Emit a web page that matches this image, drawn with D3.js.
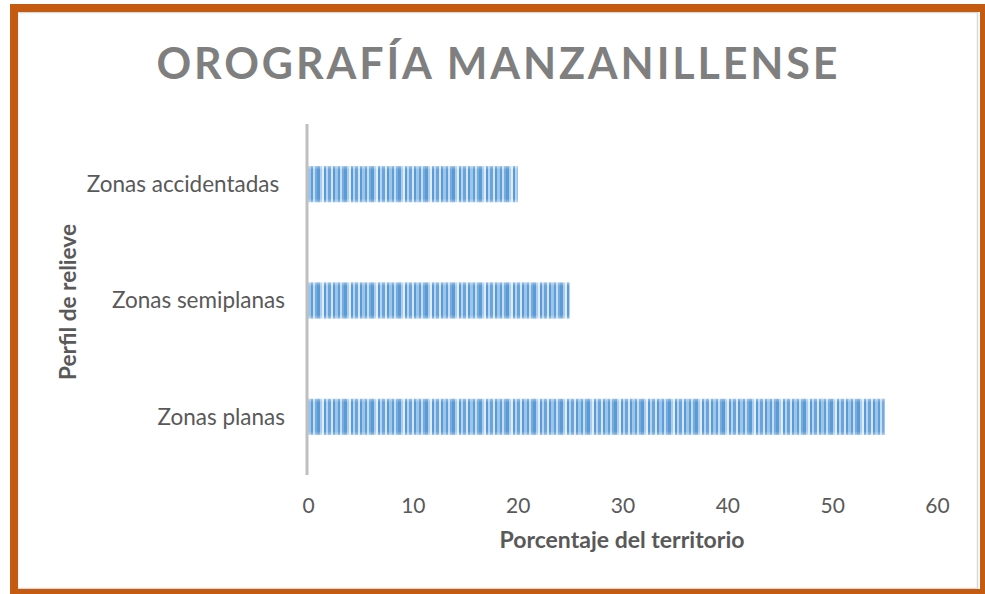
<!DOCTYPE html>
<html>
<head>
<meta charset="utf-8">
<script src="https://cdn.jsdelivr.net/npm/d3@7"></script>
<style>
  html, body { margin: 0; padding: 0; background: #ffffff; }
  svg { display: block; }
  text { white-space: pre; }
</style>
</head>
<body>
<svg id="chart" width="985" height="594"></svg>
<script>
// ---- data ----
const categories = ["Zonas accidentadas ", "Zonas semiplanas", "Zonas planas"];
const values = [20, 25, 55];
const xTicks = [0, 10, 20, 30, 40, 50, 60];
const titleText = "OROGRAFÍA MANZANILLENSE";
const xTitle = "Porcentaje del territorio";
const yTitle = "Perfil de relieve";

// ---- layout ----
const W = 985, H = 594;
const plot = { left: 308, right: 937, top: 126, bottom: 475 };
const FONT = "Lato, 'Open Sans', sans-serif";
const svg = d3.select("#chart");

// frame
svg.append("rect").attr("x", 0).attr("y", 0).attr("width", W).attr("height", H).attr("fill", "#ffffff");
svg.append("rect").attr("x", 17.5).attr("y", 12.5).attr("width", 960).attr("height", 576)
  .attr("fill", "#ffffff").attr("stroke", "#d9d9d9").attr("stroke-width", 1.5);
svg.append("rect").attr("x", 14).attr("y", 8).attr("width", 970).attr("height", 585)
  .attr("fill", "none").attr("stroke", "#c55a11").attr("stroke-width", 8);

// pattern for bars
const defs = svg.append("defs");
const stripeW = [2, 2, 3, 2, 2, 3, 2, 2, 2, 3, 2, 2];
const stripeCols = ["#5b9bd5", "#b4d3f1", "#6aa4da", "#d3e5f6", "#5b9bd5", "#9cc5ea", "#5f9ed7", "#c5ddf3", "#76acdd", "#5b9bd5", "#aacdee", "#e0edf9"];
const patW = d3.sum(stripeW);
const pat = defs.append("pattern").attr("id", "stripes").attr("patternUnits", "userSpaceOnUse")
  .attr("width", patW).attr("height", 10);
let px = 0;
stripeCols.forEach((c, i) => {
  pat.append("rect").attr("x", px).attr("y", 0).attr("width", stripeW[i]).attr("height", 10).attr("fill", c);
  px += stripeW[i];
});
const grad = defs.append("linearGradient").attr("id", "edge").attr("x1", 0).attr("x2", 0).attr("y1", 0).attr("y2", 1);
grad.append("stop").attr("offset", "0%").attr("stop-color", "#ffffff").attr("stop-opacity", 0.35);
grad.append("stop").attr("offset", "10%").attr("stop-color", "#ffffff").attr("stop-opacity", 0);
grad.append("stop").attr("offset", "90%").attr("stop-color", "#ffffff").attr("stop-opacity", 0);
grad.append("stop").attr("offset", "100%").attr("stop-color", "#ffffff").attr("stop-opacity", 0.35);

// scales
const x = d3.scaleLinear().domain([0, 60]).range([plot.left, plot.right]);
const y = d3.scaleBand().domain(categories).range([plot.top, plot.bottom]).paddingInner(0.69).paddingOuter(0.345);

// bars
const bars = svg.append("g");
bars.selectAll("rect.bar").data(categories).join("rect").attr("class", "bar")
  .attr("x", x(0)).attr("y", d => y(d))
  .attr("width", (d, i) => x(values[i]) - x(0)).attr("height", y.bandwidth())
  .attr("fill", "url(#stripes)");
bars.selectAll("rect.edge").data(categories).join("rect").attr("class", "edge")
  .attr("x", x(0)).attr("y", d => y(d))
  .attr("width", (d, i) => x(values[i]) - x(0)).attr("height", y.bandwidth())
  .attr("fill", "url(#edge)");

// y axis line
svg.append("line").attr("x1", x(0) - 1).attr("x2", x(0) - 1).attr("y1", plot.top - 2).attr("y2", plot.bottom)
  .attr("stroke", "#bfbfbf").attr("stroke-width", 3);

// x axis labels
const xAxis = d3.axisBottom(x).tickValues(xTicks).tickSize(0).tickPadding(0);
const gx = svg.append("g").attr("transform", `translate(0, ${plot.bottom})`).call(xAxis);
gx.select(".domain").remove();
gx.selectAll("text").attr("dy", 0).attr("y", 38)
  .attr("font-family", FONT).attr("font-size", 21).attr("fill", "#595959");

// y axis labels
const yAxis = d3.axisLeft(y).tickSize(0).tickPadding(0);
const gy = svg.append("g").attr("transform", `translate(${plot.left - 23}, 0)`).call(yAxis);
gy.select(".domain").remove();
gy.selectAll("text").attr("dy", "0.35em")
  .attr("font-family", FONT).attr("font-size", 22.5).attr("fill", "#595959");

// titles
svg.append("text").attr("x", 497).attr("y", 79).attr("text-anchor", "middle")
  .attr("font-family", FONT).attr("font-weight", 700)
  .attr("font-size", 43).attr("fill", "#7f7f7f")
  .attr("textLength", 681).attr("lengthAdjust", "spacing")
  .text(titleText);

svg.append("text").attr("x", 622).attr("y", 548).attr("text-anchor", "middle")
  .attr("font-family", FONT).attr("font-weight", 700)
  .attr("font-size", 22).attr("fill", "#595959")
  .attr("textLength", 245).attr("lengthAdjust", "spacingAndGlyphs").text(xTitle);

svg.append("text").attr("transform", "translate(76, 302) rotate(-90)").attr("text-anchor", "middle")
  .attr("font-family", FONT).attr("font-weight", 700)
  .attr("font-size", 22).attr("fill", "#595959")
  .attr("textLength", 156).attr("lengthAdjust", "spacingAndGlyphs").text(yTitle);
</script>
</body>
</html>
